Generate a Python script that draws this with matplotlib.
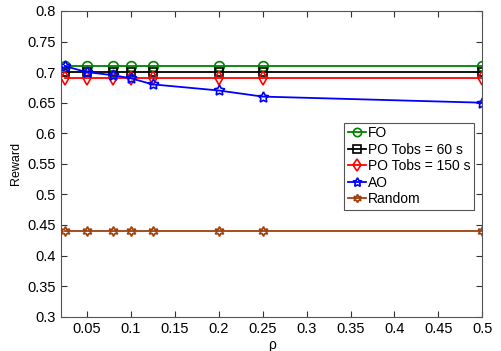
import matplotlib
matplotlib.use("Agg")
import matplotlib.pyplot as plt
import numpy as np

plt.rcParams['font.family'] = ['Liberation Sans', 'DejaVu Sans']

rho = [0.025, 0.05, 0.08, 0.1, 0.125, 0.2, 0.25, 0.5]
fo = [0.71, 0.71, 0.71, 0.71, 0.71, 0.71, 0.71, 0.71]
po60 = [0.70, 0.70, 0.70, 0.70, 0.70, 0.70, 0.70, 0.70]
po150 = [0.69, 0.69, 0.69, 0.69, 0.69, 0.69, 0.69, 0.69]
ao = [0.71, 0.70, 0.695, 0.69, 0.68, 0.67, 0.66, 0.65]
rnd = [0.44, 0.44, 0.44, 0.44, 0.44, 0.44, 0.44, 0.44]

labels = ['FO', 'PO Tobs = 60 s', 'PO Tobs = 150 s', 'AO', 'Random']
xticks = [0.05, 0.1, 0.15, 0.2, 0.25, 0.3, 0.35, 0.4, 0.45, 0.5]
yticks = [0.3, 0.35, 0.4, 0.45, 0.5, 0.55, 0.6, 0.65, 0.7, 0.75, 0.8]

fig = plt.figure(figsize=(5.02, 3.51), dpi=100)
ax = fig.add_axes([0.1215, 0.0977, 0.8395, 0.871])

series = [fo, po60, po150, ao, rnd]
colors = ['#008000', '#000000', '#ff0000', '#0000ff', '#a0400a']
markers = ['o', 's', 'd', (5, 1, 0), (6, 1, 0)]
sizes = [7, 6, 7, 8, 7]
for s, c, m, lab, ms in zip(series, colors, markers, labels, sizes):
    ax.plot(rho, s, color=c, marker=m, markersize=ms, markerfacecolor='none',
            markeredgewidth=1.2, linewidth=1.3, label=lab)

ax.set_xlim(0.0208, 0.5)
ax.set_ylim(0.3, 0.8)
ax.set_xticks(xticks)
ax.set_xticklabels([f'{v:g}' for v in xticks])
ax.set_yticks(yticks)
ax.set_yticklabels([f'{v:g}' for v in yticks])
ax.tick_params(direction='in', top=True, right=True, labelsize=10.5, length=4,
               color='#333333')
for sp in ax.spines.values():
    sp.set_color('#555555')
    sp.set_linewidth(0.8)
ax.set_xlabel('ρ', fontsize=10, labelpad=2)
ax.set_ylabel('Reward', fontsize=9, labelpad=4)

leg = ax.legend(loc='upper right', bbox_to_anchor=(0.98, 0.634), fontsize=10,
                handlelength=1.3, handletextpad=0.15, borderpad=0.25,
                labelspacing=0.18, fancybox=False, framealpha=1,
                edgecolor='#555555', borderaxespad=0, markerscale=0.85)
leg.get_frame().set_linewidth(0.8)

fig.savefig('out.png', dpi=100)
